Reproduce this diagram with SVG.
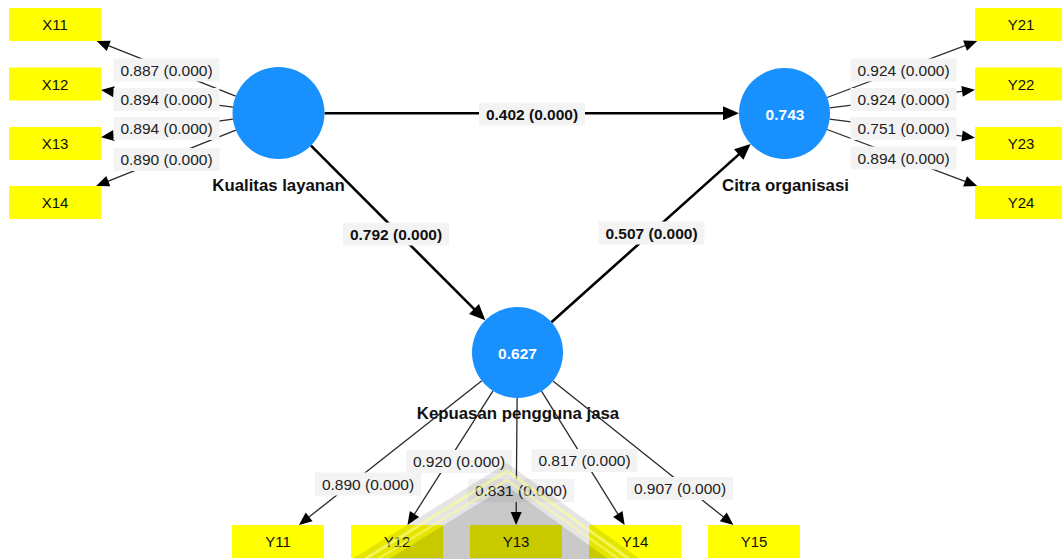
<svg xmlns="http://www.w3.org/2000/svg" width="1062" height="559" viewBox="0 0 1062 559">
<style>
.box{fill:#ffff00}
.btxt{font-family:"Liberation Sans",Arial,sans-serif;font-size:15px;fill:#111;text-anchor:middle}
.lv{fill:#1890fe}
.ltxt{font-family:"Liberation Sans",Arial,sans-serif;font-size:15.5px;font-weight:bold;fill:#fff;text-anchor:middle}
.name{font-family:"Liberation Sans",Arial,sans-serif;font-size:16.8px;font-weight:bold;fill:#111;text-anchor:middle}
.m{stroke:#2a2a2a;stroke-width:1.3;fill:none;marker-end:url(#am)}
.s{stroke:#000;stroke-width:2.6;fill:none;marker-end:url(#as)}
.lb{fill:#f3f3f3}
.et{font-family:"Liberation Sans",Arial,sans-serif;font-size:15.5px;fill:#222;text-anchor:middle}
.eb{font-family:"Liberation Sans",Arial,sans-serif;font-size:15.5px;font-weight:bold;fill:#111;text-anchor:middle}
</style>
<defs>
<marker id="am" markerUnits="userSpaceOnUse" markerWidth="14" markerHeight="12" refX="10" refY="5.5" orient="auto" overflow="visible">
<path d="M0,0 L13,5.5 L0,11 z" fill="#000"/>
</marker>
<marker id="as" markerUnits="userSpaceOnUse" markerWidth="17" markerHeight="15" refX="13" refY="7" orient="auto" overflow="visible">
<path d="M0,0 L16,7 L0,14 z" fill="#000"/>
</marker>
</defs>
<rect width="1062" height="559" fill="#fff"/>

<g id="connectors">
<line class="m" x1="235.7" y1="96.1" x2="99.5" y2="42.1"/>
<line class="m" x1="232.9" y1="107.1" x2="104" y2="90.4"/>
<line class="m" x1="232.9" y1="119.2" x2="104" y2="136.8"/>
<line class="m" x1="235.8" y1="130.1" x2="99" y2="184.9"/>
<line class="m" x1="827.1" y1="97.5" x2="974.4" y2="42.1"/>
<line class="m" x1="829.7" y1="107.9" x2="972" y2="90.1"/>
<line class="m" x1="829.6" y1="119.2" x2="972" y2="137.3"/>
<line class="m" x1="827.1" y1="129.5" x2="974.4" y2="184.9"/>
<line class="m" x1="481.8" y1="380.7" x2="301.3" y2="523.1"/>
<line class="m" x1="493" y1="390.9" x2="409.1" y2="522.5"/>
<line class="m" x1="517.1" y1="398" x2="516.1" y2="522"/>
<line class="m" x1="541.5" y1="391.1" x2="623.1" y2="522.5"/>
<line class="m" x1="553" y1="380.9" x2="731.1" y2="523.1"/>
<line class="s" x1="324.5" y1="113.2" x2="736" y2="113.2"/>
<line class="s" x1="311" y1="145.6" x2="483.2" y2="318.2"/>
<line class="s" x1="551.4" y1="322.2" x2="748.4" y2="145.9"/>

<g id="edge-labels">
<rect class="lb" x="113.5" y="58.5" width="106" height="23"/><text class="et" x="166.5" y="75.5">0.887 (0.000)</text>
<rect class="lb" x="113.5" y="88" width="106" height="23"/><text class="et" x="166.5" y="105">0.894 (0.000)</text>
<rect class="lb" x="113.5" y="117" width="106" height="23"/><text class="et" x="166.5" y="134">0.894 (0.000)</text>
<rect class="lb" x="113.5" y="148" width="106" height="23"/><text class="et" x="166.5" y="165">0.890 (0.000)</text>
<rect class="lb" x="850.5" y="58.5" width="106" height="23"/><text class="et" x="903.5" y="75.5">0.924 (0.000)</text>
<rect class="lb" x="850.5" y="88" width="106" height="23"/><text class="et" x="903.5" y="105">0.924 (0.000)</text>
<rect class="lb" x="850.5" y="117" width="106" height="23"/><text class="et" x="903.5" y="134">0.751 (0.000)</text>
<rect class="lb" x="850.5" y="146.5" width="106" height="23"/><text class="et" x="903.5" y="163.5">0.894 (0.000)</text>
<rect class="lb" x="479" y="102.5" width="106" height="23"/><text class="eb" x="532" y="119.5">0.402 (0.000)</text>
<rect class="lb" x="343" y="222.5" width="106" height="23"/><text class="eb" x="396" y="239.5">0.792 (0.000)</text>
<rect class="lb" x="598.5" y="221.5" width="106" height="23"/><text class="eb" x="651.5" y="238.5">0.507 (0.000)</text>
<rect class="lb" x="315" y="472.5" width="106" height="23"/><text class="et" x="368" y="489.5">0.890 (0.000)</text>
<rect class="lb" x="406" y="450" width="106" height="23"/><text class="et" x="459" y="467">0.920 (0.000)</text>
<rect class="lb" x="468" y="479" width="106" height="23"/><text class="et" x="521" y="496">0.831 (0.000)</text>
<rect class="lb" x="531.5" y="449" width="106" height="23"/><text class="et" x="584.5" y="466">0.817 (0.000)</text>
<rect class="lb" x="627" y="477" width="106" height="23"/><text class="et" x="680" y="494">0.907 (0.000)</text>
</g>
</g>

<g id="X11"><rect class="box" x="9" y="8" width="92" height="33"/><text class="btxt" x="55" y="30">X11</text></g>
<g id="X12"><rect class="box" x="9" y="67.5" width="92" height="33"/><text class="btxt" x="55" y="89.5">X12</text></g>
<g id="X13"><rect class="box" x="9" y="127" width="92" height="33"/><text class="btxt" x="55" y="149">X13</text></g>
<g id="X14"><rect class="box" x="9" y="186" width="92" height="33"/><text class="btxt" x="55" y="208">X14</text></g>
<g id="Y21"><rect class="box" x="975" y="8" width="92" height="33"/><text class="btxt" x="1021" y="30">Y21</text></g>
<g id="Y22"><rect class="box" x="975" y="67.5" width="92" height="33"/><text class="btxt" x="1021" y="89.5">Y22</text></g>
<g id="Y23"><rect class="box" x="975" y="127" width="92" height="33"/><text class="btxt" x="1021" y="149">Y23</text></g>
<g id="Y24"><rect class="box" x="975" y="186" width="92" height="33"/><text class="btxt" x="1021" y="208">Y24</text></g>
<g id="Y11"><rect class="box" x="232" y="525" width="92" height="33"/><text class="btxt" x="278" y="547">Y11</text></g>
<g id="Y12"><rect class="box" x="351" y="525" width="92" height="33"/><text class="btxt" x="397" y="547">Y12</text></g>
<g id="Y13"><rect class="box" x="470" y="525" width="92" height="33"/><text class="btxt" x="516" y="547">Y13</text></g>
<g id="Y14"><rect class="box" x="589" y="525" width="92" height="33"/><text class="btxt" x="635" y="547">Y14</text></g>
<g id="Y15"><rect class="box" x="708" y="525" width="92" height="33"/><text class="btxt" x="754" y="547">Y15</text></g>

<g id="kualitas-layanan"><circle class="lv" cx="278.5" cy="113" r="46"/><text class="name" x="278.5" y="191">Kualitas layanan</text></g>
<g id="citra-organisasi"><circle class="lv" cx="784.5" cy="113.5" r="45.5"/><text class="ltxt" x="785" y="119.5">0.743</text><text class="name" x="785.5" y="191">Citra organisasi</text></g>
<g id="kepuasan-pengguna-jasa"><circle class="lv" cx="517.5" cy="352.5" r="45.5"/><text class="ltxt" x="517.5" y="358.5">0.627</text><text class="name" x="518" y="419">Kepuasan pengguna jasa</text></g>

<g id="watermark" pointer-events="none">
<polygon points="507,463 352,559 640,559" fill="#000" opacity="0.1"/>
<polygon points="507,486 389,559 608,559" fill="#000" opacity="0.12"/>
<polyline points="365,559 507,471 629,559" fill="none" stroke="#ffff90" stroke-width="3" opacity="0.6"/>
<polyline points="378,559 507,480 619,559" fill="none" stroke="#ffff90" stroke-width="2.5" opacity="0.5"/>
</g>
</svg>
